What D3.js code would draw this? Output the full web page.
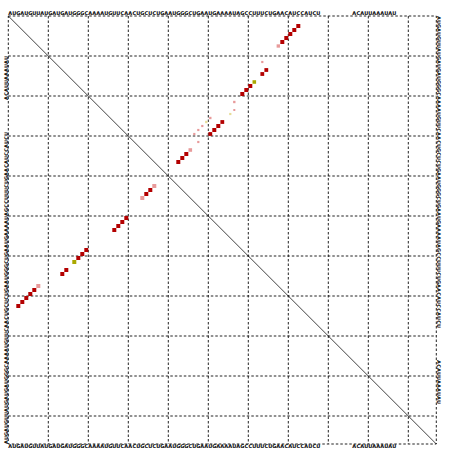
<!DOCTYPE html>
<html><head><meta charset="utf-8">
<script src="https://cdn.jsdelivr.net/npm/d3@7"></script>
<style>body{margin:0;background:#fff}svg{display:block}</style>
</head><body><svg id="c" width="452" height="451"></svg>
<script>
// consensus sequence ('-' = alignment gap, not drawn)
const sequence = "AUGAUGUUAUGAUGAUGGGCAAAAUGUUCAACUGCUCUGAAUGGGCUGAAUGAAAAUAGCCUUUCUGAACAUCCAUCU--------ACAUUAAAUAU----------";
const gridTicks = [10,20,30,40,50,60,70,80,90,100];

// upper triangle: base pair probabilities (i<j), drawn at (x=j, y=i)
const upperI    = [3,4,5,6,7,8, 12, 14,15,17,18,19,20, 22,24,25, 26,27,28,29,30,32, 27,28,29,30, 34,35,36,37];
const upperJ    = [73,72,71,70,69,68, 64, 65,64,62,61,60,59, 57,57,56, 51,50,49,48,47,48, 54,53,52,51, 46,45,44,43];
const upperProb = [1,1,1,1,1,0.7, 0.3, 0.9,0.9,0.8,1,1,1, 0.35,0.25,0.3, 0.35,0.35,0.3,0.3,0.3,0.3, 0.9,1,1,0.9, 0.8,1,1,1];
const upperType = [1,1,1,1,1,1, 1, 1,1,2,1,1,1, 1,1,2, 1,2,1,1,1,1, 1,1,1,1, 1,1,1,1];
const upperPale = [0,0,0,0,0,1, 1, 0,0,0,0,0,0, 1,1,1, 1,1,1,1,1,1, 0,0,0,0, 1,0,0,0];

// lower triangle: drawn at (x=i, y=j)
const lowerI    = [3,4,5,6,7,8, 14,15,17,18,19,20, 27,28,29,30, 34,35,36,37];
const lowerJ    = [73,72,71,70,69,68, 65,64,62,61,60,59, 54,53,52,51, 46,45,44,43];
const lowerType = [1,1,1,1,1,1, 1,1,2,1,1,1, 1,1,1,1, 1,1,1,1];
const lowerPale = [0,0,0,0,0,1, 0,0,0,0,0,0, 0,0,0,0, 1,0,0,1];

const N = sequence.length;
const svg = d3.select("#c");
const x = d3.scaleLinear().domain([0, N]).range([8.3, 436.3]);
const y = d3.scaleLinear().domain([0, N]).range([16, 444]);
const cell = x(1) - x(0);

function colorOf(t, pale) {
  if (!pale) return t === 1 ? "#b30000" : "#aaa800";
  return t === 1 ? "#e89a9a" : "#e6dc98";
}

// grid
const g = svg.append("g").attr("stroke", "#222").attr("stroke-width", 1).attr("stroke-dasharray", "2.5,2").attr("fill", "none");
g.selectAll("line.v").data(gridTicks).join("line")
  .attr("x1", d => x(d)).attr("x2", d => x(d)).attr("y1", y(0)).attr("y2", y(N));
g.selectAll("line.h").data(gridTicks).join("line")
  .attr("y1", d => y(d)).attr("y2", d => y(d)).attr("x1", x(0)).attr("x2", x(N));
g.append("rect").attr("x", x(0)).attr("y", y(0)).attr("width", x(N) - x(0)).attr("height", y(N) - y(0));

// diagonal
svg.append("line").attr("x1", x(0)).attr("y1", y(0)).attr("x2", x(N)).attr("y2", y(N))
  .attr("stroke", "#111").attr("stroke-width", 0.8);

// dots
const upper = upperI.map((d, k) => ({i: d, j: upperJ[k], p: upperProb[k], t: upperType[k], pale: upperPale[k]}));
const lower = lowerI.map((d, k) => ({i: d, j: lowerJ[k], t: lowerType[k], pale: lowerPale[k]}));
svg.append("g").selectAll("rect").data(upper).join("rect")
  .attr("x", d => x(d.j - 0.5) - cell * Math.sqrt(d.p) / 2)
  .attr("y", d => y(d.i - 0.5) - cell * Math.sqrt(d.p) / 2)
  .attr("width", d => cell * Math.sqrt(d.p)).attr("height", d => cell * Math.sqrt(d.p))
  .attr("fill", d => colorOf(d.t, d.pale));
svg.append("g").selectAll("rect").data(lower).join("rect")
  .attr("x", d => x(d.i - 0.5) - cell / 2).attr("y", d => y(d.j - 0.5) - cell / 2)
  .attr("width", cell).attr("height", cell)
  .attr("fill", d => colorOf(d.t, d.pale));

// sequence letters
const letters = sequence.split("").map((c, k) => ({c, k: k + 1})).filter(d => d.c !== "-");
function styleText(sel) {
  return sel.attr("font-family", "DejaVu Sans").attr("font-size", "5px").attr("font-weight", "bold")
    .attr("fill", "#000").attr("text-anchor", "middle");
}
styleText(svg.append("g").selectAll("text").data(letters).join("text")
  .attr("x", d => x(d.k - 0.5)).attr("y", y(0) - 0.8).text(d => d.c));
styleText(svg.append("g").selectAll("text").data(letters).join("text")
  .attr("x", d => x(d.k - 0.5)).attr("y", y(N) + 4).text(d => d.c));
// left column: rotated string reads bottom-to-top (position 1 at the bottom)
styleText(svg.append("g").selectAll("text").data(letters).join("text")
  .attr("transform", d => `translate(${x(0) - 0.8},${y(N - d.k + 0.5)}) rotate(-90)`).text(d => d.c));
// right column: reads top-to-bottom
styleText(svg.append("g").selectAll("text").data(letters).join("text")
  .attr("transform", d => `translate(${x(N) + 0.8},${y(d.k - 0.5)}) rotate(90)`).text(d => d.c));
</script></body></html>
